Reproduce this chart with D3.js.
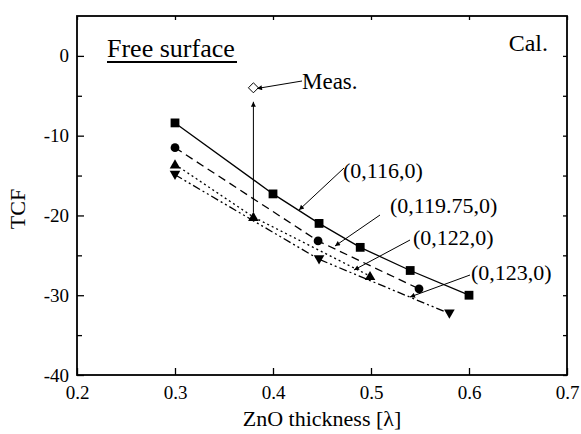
<!DOCTYPE html>
<html>
<head>
<meta charset="utf-8">
<script src="https://cdn.jsdelivr.net/npm/d3@7"></script>
<style>
  html, body { margin: 0; padding: 0; background: #fff; }
  svg { display: block; }
  svg text { font-family: "Liberation Serif", "Times New Roman", serif; fill: #000; }
</style>
</head>
<body>
<svg id="chart" width="581" height="434"></svg>
<script>
// ---- data ----
const xTicks = [0.2, 0.3, 0.4, 0.5, 0.6, 0.7];
const yTicks = [-40, -30, -20, -10, 0];
const yMinorTicks = [-35, -25, -15, -5];

const x116 = [0.30, 0.40, 0.447, 0.489, 0.540, 0.600];
const y116 = [-8.4, -17.3, -21.0, -24.0, -26.9, -30.0];

const x11975 = [0.30, 0.446, 0.549];
const y11975 = [-11.5, -23.2, -29.2];

const x122 = [0.30, 0.38, 0.499];
const y122 = [-13.6, -20.2, -27.6];

const x123 = [0.30, 0.447, 0.580];
const y123 = [-14.9, -25.5, -32.3];

const measX = [0.38];
const measY = [-4.0];

const seriesLabels = ["(0,116,0)", "(0,119.75,0)", "(0,122,0)", "(0,123,0)"];

// ---- layout ----
const W = 581, H = 434;
const margin = { left: 77, top: 16, right: 14, bottom: 59 };
const iw = W - margin.left - margin.right;
const ih = H - margin.top - margin.bottom;

const svg = d3.select("#chart");
const defs = svg.append("defs");
defs.append("marker")
  .attr("id", "arrow")
  .attr("viewBox", "0 0 10 10")
  .attr("refX", 10).attr("refY", 5)
  .attr("markerWidth", 7).attr("markerHeight", 5)
  .attr("markerUnits", "userSpaceOnUse")
  .attr("orient", "auto")
  .append("path").attr("d", "M0,0 L10,5 L0,10 Z").attr("fill", "#000");

const g = svg.append("g").attr("transform", `translate(${margin.left},${margin.top})`);

const x = d3.scaleLinear().domain([0.2, 0.7]).range([0, iw]);
const y = d3.scaleLinear().domain([-40, 5]).range([ih, 0]);

// axes
const tickFont = 19;
g.append("g").attr("transform", `translate(0,${ih})`)
  .call(d3.axisBottom(x).tickValues(xTicks).tickFormat(d3.format(".1f")).tickSize(-7).tickPadding(11));
g.append("g")
  .call(d3.axisLeft(y).tickValues(yTicks).tickFormat(d => String(d)).tickSize(-7).tickPadding(8));
g.append("g").call(d3.axisLeft(y).tickValues(yMinorTicks).tickFormat("").tickSize(-5));
g.append("g").attr("transform", `translate(${iw},0)`)
  .call(d3.axisRight(y).tickValues(yTicks.concat(yMinorTicks)).tickFormat("").tickSize(-4));
g.append("g")
  .call(d3.axisTop(x).tickValues(xTicks).tickFormat("").tickSize(-4));

g.selectAll(".domain").remove();
g.selectAll(".tick line").attr("stroke", "#000").attr("stroke-width", 1.3);
g.selectAll(".tick text").attr("font-size", tickFont).attr("fill", "#000");

g.append("rect").attr("x", 0).attr("y", 0).attr("width", iw).attr("height", ih)
  .attr("fill", "none").attr("stroke", "#000").attr("stroke-width", 1.8);

// axis titles
svg.append("text").attr("x", margin.left + iw / 2).attr("y", 426)
  .attr("text-anchor", "middle").attr("font-size", 22)
  .text("ZnO thickness [λ]");
svg.append("text").attr("transform", "translate(25,209) rotate(-90)")
  .attr("text-anchor", "middle").attr("font-size", 22)
  .text("TCF");

// series
const series = [
  { xs: x116, ys: y116, dash: null, marker: "square" },
  { xs: x11975, ys: y11975, dash: "8,5", marker: "circle" },
  { xs: x122, ys: y122, dash: "2,3", marker: "triUp" },
  { xs: x123, ys: y123, dash: "8,3,2,3,2,3", marker: "triDown" }
];

const line = d3.line().x(d => x(d[0])).y(d => y(d[1]));

series.forEach(s => {
  const pts = s.xs.map((v, i) => [v, s.ys[i]]);
  g.append("path").datum(pts)
    .attr("d", line)
    .attr("fill", "none").attr("stroke", "#000").attr("stroke-width", 1.3)
    .attr("stroke-dasharray", s.dash);
});

function markerPath(type) {
  if (type === "square") return "M-4.4,-4.4 H4.4 V4.4 H-4.4 Z";
  if (type === "triUp") return "M0,-5.2 L5.3,4 L-5.3,4 Z";
  if (type === "triDown") return "M0,5.2 L5.3,-4 L-5.3,-4 Z";
  return null;
}

series.forEach(s => {
  const pts = s.xs.map((v, i) => [v, s.ys[i]]);
  if (s.marker === "circle") {
    g.selectAll(null).data(pts).enter().append("circle")
      .attr("cx", d => x(d[0])).attr("cy", d => y(d[1])).attr("r", 4.4)
      .attr("fill", "#000");
  } else {
    g.selectAll(null).data(pts).enter().append("path")
      .attr("transform", d => `translate(${x(d[0])},${y(d[1])})`)
      .attr("d", markerPath(s.marker)).attr("fill", "#000");
  }
});

// measured point (open diamond)
g.selectAll(null).data(measX.map((v, i) => [v, measY[i]])).enter().append("path")
  .attr("transform", d => `translate(${x(d[0])},${y(d[1])})`)
  .attr("d", "M0,-5 L5,0 L0,5 L-5,0 Z")
  .attr("fill", "#fff").attr("stroke", "#000").attr("stroke-width", 1);

// vertical arrow from calculated point to measured point
g.append("line")
  .attr("x1", x(measX[0])).attr("y1", y(y122[1]) - 5)
  .attr("x2", x(measX[0])).attr("y2", y(measY[0]) + 14)
  .attr("stroke", "#000").attr("stroke-width", 1)
  .attr("marker-end", "url(#arrow)");

function leader(x1, y1, x2, y2) {
  svg.append("line").attr("x1", x1).attr("y1", y1).attr("x2", x2).attr("y2", y2)
    .attr("stroke", "#000").attr("stroke-width", 1).attr("marker-end", "url(#arrow)");
}
const annFont = 22;

svg.append("text").attr("x", 107).attr("y", 56.5).attr("font-size", 26).text("Free surface");
svg.append("line").attr("x1", 107).attr("x2", 237).attr("y1", 62).attr("y2", 62)
  .attr("stroke", "#000").attr("stroke-width", 2);

svg.append("text").attr("x", 548).attr("y", 50.5).attr("text-anchor", "end")
  .attr("font-size", 24).text("Cal.");

svg.append("text").attr("x", 302).attr("y", 89).attr("font-size", 23).text("Meas.");
leader(302, 81, 257, 88.5);

svg.append("text").attr("x", 343).attr("y", 178).attr("font-size", annFont).text(seriesLabels[0]);
leader(344, 168, 299, 210);
svg.append("text").attr("x", 390).attr("y", 213).attr("font-size", annFont).text(seriesLabels[1]);
leader(380, 215, 335, 246);
svg.append("text").attr("x", 413).attr("y", 245).attr("font-size", annFont).text(seriesLabels[2]);
leader(410, 240, 354, 270);
svg.append("text").attr("x", 471).attr("y", 280).attr("font-size", annFont).text(seriesLabels[3]);
leader(470, 275, 410, 297);
</script>
</body>
</html>
